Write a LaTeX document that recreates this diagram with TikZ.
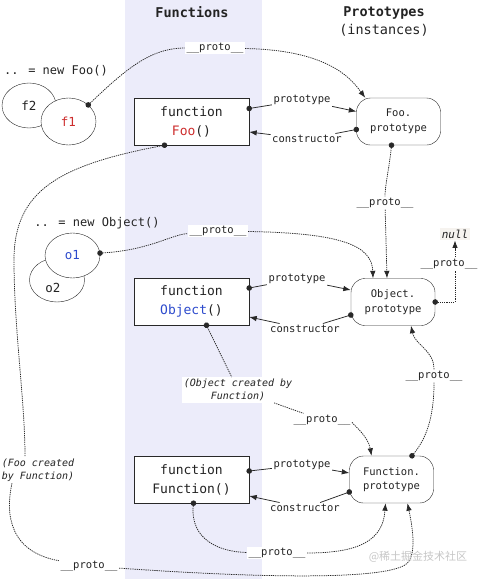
\documentclass[tikz,border=0pt]{standalone}
\usepackage{fontspec}
\setmainfont{DejaVu Sans Mono}
\newfontfamily\cjkfont{Noto Sans CJK SC}
\usetikzlibrary{shapes.geometric, arrows.meta}

\definecolor{bandcol}{RGB}{236,236,250}
\definecolor{inkcol}{RGB}{35,35,35}
\definecolor{linecol}{RGB}{40,40,40}
\definecolor{fooRed}{RGB}{205,45,45}
\definecolor{objBlue}{RGB}{45,75,205}
\definecolor{nullBg}{RGB}{246,243,239}

\tikzset{
    every picture/.style={x=1pt, y=-1pt},
    fnbox/.style={draw=linecol, fill=white, minimum width=115pt, minimum height=47pt,
        align=center, text=inkcol, font=\fontsize{13}{19}\selectfont},
    protobox/.style={draw=linecol, fill=white, rounded corners=14pt, minimum width=84pt,
        minimum height=47pt, align=center, text=inkcol, font=\fontsize{10.5}{14.5}\selectfont},
    inst/.style={draw=linecol, fill=white, ellipse, inner sep=0pt, minimum width=55pt,
        minimum height=46pt, text=inkcol, font=\fontsize{12.5}{15}\selectfont},
    lab/.style={fill=white, inner sep=1.5pt, text=inkcol, font=\fontsize{10.5}{13}\selectfont},
    note/.style={fill=white, inner sep=1.5pt, align=center, text=inkcol,
        font=\fontsize{10}{13.5}\selectfont\itshape},
    link/.style={draw=linecol, line width=0.75pt},
    plink/.style={link, dash pattern=on 1.3pt off 0.9pt},
    dotstart/.style={{Circle[length=5.5pt]}-, shorten <=-2.75pt},
    tipend/.style={-{Latex[length=7.5pt,width=5.5pt]}}
}

\begin{document}
\begin{tikzpicture}
    \useasboundingbox (0,0) rectangle (478,579);
    \clip (0,0) rectangle (478,579);

    % Functions column
    \fill[bandcol] (125,0) rectangle (262,579);

    % Headings
    \node[text=inkcol, font=\fontsize{13.5}{18}\selectfont\bfseries] (fnHd) at (192,12) {Functions};
    \node[align=center, text=inkcol, font=\fontsize{13.5}{18}\selectfont] (protoHd) at (384,21)
        {\textbf{Prototypes}\\(instances)};

    % Instances
    \node[text=inkcol, font=\fontsize{12}{14}\selectfont] (newFoo) at (56,71) {.. = new Foo()};
    \node[inst, minimum width=54pt, minimum height=45pt] (f2) at (29,105.5) {f2};
    \node[inst, minimum height=47pt, text=fooRed] (f1) at (68.5,121.5) {f1};
    \node[text=inkcol, font=\fontsize{12}{14}\selectfont] (newObj) at (97,223) {.. = new Object()};
    \node[inst, minimum height=44pt] (o2) at (57,280) {};
    \node[text=inkcol, font=\fontsize{12.5}{15}\selectfont] (o2txt) at (53,288) {o2};
    \node[inst, minimum height=45pt, text=objBlue] (o1) at (72.5,255.5) {o1};

    % Functions
    \node[fnbox] (fooF) at (191.5,121.5) {function\\\textcolor{fooRed}{Foo}()};
    \node[fnbox] (objF) at (191.5,301.5) {function\\\textcolor{objBlue}{Object}()};
    \node[fnbox] (funF) at (191.5,479.5) {function\\Function()};

    % Prototypes
    \node[protobox] (fooP) at (398.5,121.5) {Foo.\\prototype};
    \node[protobox] (objP) at (393,302) {Object.\\prototype};
    \node[protobox] (funP) at (391.5,479.5) {Function.\\prototype};
    \node[fill=nullBg, inner sep=2pt, text=inkcol, font=\fontsize{11}{13}\selectfont\itshape] (nul) at (455,234) {null};

    % Link labels
    \node[lab] (fooPt) at (302,100) {prototype};
    \node[lab] (fooCt) at (307,139) {constructor};
    \node[lab] (objPt) at (297,279) {prototype};
    \node[lab] (objCt) at (305,329) {constructor};
    \node[lab] (funPt) at (302,465) {prototype};
    \node[lab] (funCt) at (305,508) {constructor};
    \node[lab] (pr1) at (215,48) {\_\_proto\_\_};
    \node[lab] (pr2) at (385,203) {\_\_proto\_\_};
    \node[lab] (pr3) at (218,231) {\_\_proto\_\_};
    \node[lab] (pr4) at (449,264) {\_\_proto\_\_};
    \node[lab] (pr5) at (322,420) {\_\_proto\_\_};
    \node[lab] (pr6) at (434,376) {\_\_proto\_\_};
    \node[lab] (pr7) at (277,553) {\_\_proto\_\_};
    \node[lab] (pr8) at (89,566) {\_\_proto\_\_};
    \node[note] (objNote) at (238,390) {(Object created by\\Function)};
    \node[note] (fooNote) at (38,470) {(Foo created\\by Function)};

    % prototype / constructor links
    \draw[link, dotstart] ([yshift=13pt]fooF.east) -- (fooPt);
    \draw[link, tipend] (fooPt) -- ([yshift=10pt]fooP.west);
    \draw[link, dotstart] ([yshift=-8pt]fooP.west) -- (fooCt);
    \draw[link, tipend] (fooCt) -- ([yshift=-10.5pt]fooF.east);
    \draw[link, dotstart] ([yshift=13.5pt]objF.east) -- (objPt);
    \draw[link, tipend] (objPt) -- ([yshift=12pt]objP.west);
    \draw[link, dotstart] ([yshift=-13pt]objP.west) -- (objCt);
    \draw[link, tipend] (objCt) -- ([yshift=-15.5pt]objF.east);
    \draw[link, dotstart] ([yshift=8.5pt]funF.east) -- (funPt);
    \draw[link, tipend] (funPt) -- ([yshift=6.5pt]funP.west);
    \draw[link, dotstart] ([yshift=-12.5pt]funP.west) -- (funCt);
    \draw[link, tipend] (funCt) -- ([yshift=-16.5pt]funF.east);

    % __proto__ chains
    \draw[plink, dotstart] (f1.40) .. controls (125,70) and (150,48) .. (pr1);
    \draw[plink, tipend] (pr1) .. controls (330,50) and (352,80) .. ([xshift=9pt]fooP.north west);
    \draw[plink, dotstart] ([xshift=-7pt]fooP.south) .. controls (389,170) and (385,185) .. (pr2);
    \draw[plink, tipend] (pr2) -- ([xshift=-6pt]objP.north);
    \draw[plink, dotstart] (o1.5) .. controls (150,250) and (170,235) .. (pr3);
    \draw[plink, tipend] (pr3) .. controls (340,233) and (372,245) .. ([xshift=-20pt]objP.north);
    \draw[plink, dotstart] (objP.east) -| (pr4.south -| nul.south);
    \draw[plink, tipend] (pr4.north -| nul.south) -- (nul.south);
    \draw[plink, dotstart] ([xshift=15pt]objF.south) -- (objNote);
    \draw[plink] (objNote) -- (pr5);
    \draw[plink, tipend] (pr5) .. controls (350,422) and (368,435) .. ([xshift=-20pt]funP.north);
    \draw[plink, dotstart] ([xshift=20.5pt]funP.north) .. controls (425,440) and (434,420) .. (pr6);
    \draw[plink, tipend] (pr6) .. controls (434,350) and (415,345) .. ([xshift=18pt]objP.south);
    \draw[plink, dotstart] ([xshift=2pt]funF.south) .. controls (190,540) and (220,552) .. (pr7);
    \draw[plink, tipend] (pr7) .. controls (360,553) and (383,540) .. ([xshift=-6pt]funP.south);
    \draw[plink, dotstart] ([xshift=-27pt]fooF.south) .. controls (60,165) and (14,190) .. (14,260)
        .. controls (14,330) and (25,400) .. ([xshift=-13pt]fooNote.north);
    \draw[plink] ([xshift=-26pt]fooNote.south) .. controls (5,515) and (10,552) .. (pr8);
    \draw[plink, tipend] (pr8) .. controls (260,578) and (380,580) .. (405,565)
        .. controls (418,557) and (412,525) .. ([xshift=16pt]funP.south);

    % Watermark
    \node[text=gray!45, font=\cjkfont\fontsize{11}{13}\selectfont] (wm) at (418,557) {@稀土掘金技术社区};
\end{tikzpicture}
\end{document}
